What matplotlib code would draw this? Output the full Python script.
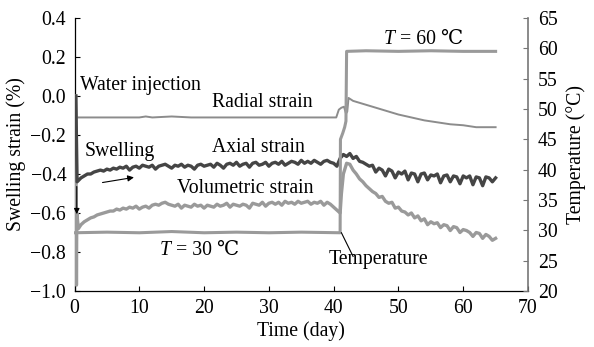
import matplotlib
matplotlib.use("Agg")
import matplotlib.pyplot as plt
import numpy as np

plt.rcParams['font.family'] = ['Liberation Serif', 'DejaVu Serif']

# ---------------- data ----------------
# Radial strain (%)
radial_t = [0.0, 0.2, 0.3, 5, 10, 11, 12, 15, 18, 20, 25, 30, 35, 40.4, 40.8, 41.2, 41.6, 41.9, 42.1,
            42.3, 43, 44, 45, 46, 47, 48, 49, 50, 52, 54, 56, 58, 60, 62, 64, 65]
radial_v = [0.0, 0.0, -0.11, -0.11, -0.11, -0.105, -0.11, -0.105, -0.11, -0.11, -0.11, -0.11, -0.11, -0.11,
            -0.07, -0.06, -0.055, -0.09, -0.08, -0.01, -0.025, -0.035, -0.045, -0.055, -0.065, -0.075,
            -0.085, -0.095, -0.11, -0.125, -0.135, -0.145, -0.15, -0.16, -0.16, -0.16]

# Axial strain (%)
axial_t = [0.2, 0.4, 0.7] + [1.0 + 0.5 * i for i in range(80)] + \
          [41.0, 41.5, 42.0, 42.5, 43.0, 43.5, 44.0, 44.5, 45.0, 45.5] + [46.0 + 0.5 * i for i in range(39)]
axial_v = [0.0, -0.44, -0.43,
           -0.42, -0.41, -0.40, -0.40, -0.39, -0.385, -0.38, -0.385, -0.375, -0.38,
           -0.37, -0.375, -0.365, -0.37, -0.36, -0.38, -0.365, -0.36, -0.37, -0.355,
           -0.36, -0.365, -0.355, -0.375, -0.36, -0.355, -0.35, -0.36, -0.37, -0.355,
           -0.36, -0.35, -0.365, -0.355, -0.36, -0.375, -0.355, -0.35, -0.36, -0.355,
           -0.35, -0.365, -0.345, -0.355, -0.37, -0.35, -0.345, -0.355, -0.34, -0.36,
           -0.35, -0.345, -0.365, -0.345, -0.34, -0.355, -0.35, -0.34, -0.36, -0.345,
           -0.34, -0.35, -0.335, -0.355, -0.345, -0.335, -0.34, -0.35, -0.33, -0.345,
           -0.335, -0.345, -0.33, -0.34, -0.35, -0.335, -0.33, -0.34, -0.345, -0.36,
           -0.32, -0.30, -0.31, -0.295, -0.32, -0.31, -0.335, -0.34, -0.35, -0.36,
           -0.355, -0.39, -0.37, -0.38, -0.41, -0.375, -0.385, -0.42, -0.39, -0.40,
           -0.385, -0.43, -0.395, -0.40, -0.44, -0.40, -0.395, -0.43, -0.405, -0.41,
           -0.40, -0.445, -0.41, -0.405, -0.44, -0.41, -0.415, -0.45, -0.41, -0.42,
           -0.41, -0.455, -0.415, -0.42, -0.46, -0.415, -0.42, -0.44, -0.42]

# Volumetric strain (%)
vol_t = [0.2, 0.3, 0.35, 0.6] + [1.0 + 0.5 * i for i in range(80)] + \
        [41.0, 41.2, 41.5, 42.0, 42.5, 43.0, 43.5, 44.0, 44.5, 45.0, 45.5] + [46.0 + 0.5 * i for i in range(39)]
vol_v = [0.0, -0.97, -0.60, -0.68,
         -0.66, -0.645, -0.635, -0.625, -0.62, -0.61, -0.605, -0.60, -0.595, -0.59,
         -0.59, -0.58, -0.585, -0.575, -0.58, -0.57, -0.575, -0.565, -0.58, -0.57,
         -0.565, -0.575, -0.56, -0.555, -0.56, -0.55, -0.545, -0.555, -0.56, -0.565,
         -0.555, -0.575, -0.56, -0.565, -0.57, -0.555, -0.565, -0.56, -0.575, -0.56,
         -0.565, -0.57, -0.555, -0.565, -0.56, -0.55, -0.57, -0.555, -0.56, -0.565,
         -0.555, -0.56, -0.575, -0.55, -0.555, -0.56, -0.545, -0.565, -0.55, -0.545,
         -0.555, -0.545, -0.56, -0.54, -0.55, -0.545, -0.555, -0.54, -0.55, -0.545,
         -0.54, -0.555, -0.545, -0.55, -0.54, -0.56, -0.545, -0.555, -0.57, -0.585,
         -0.60, -0.50, -0.40, -0.345, -0.35, -0.38, -0.40, -0.425, -0.44, -0.46, -0.475,
         -0.49, -0.50, -0.52, -0.515, -0.54, -0.55, -0.545, -0.575, -0.57, -0.59,
         -0.595, -0.61, -0.60, -0.625, -0.615, -0.64, -0.63, -0.66, -0.645, -0.655,
         -0.65, -0.675, -0.66, -0.665, -0.69, -0.67, -0.675, -0.70, -0.685, -0.69,
         -0.70, -0.72, -0.70, -0.705, -0.73, -0.71, -0.72, -0.74, -0.73]

# Temperature (deg C)
temp_t = [0.0, 5, 10, 15, 20, 25, 30, 35, 41.0, 41.05, 41.4, 41.7, 41.9, 42.0, 45, 50, 55, 60, 65]
temp_v = [29.6, 29.7, 29.6, 29.8, 29.6, 29.7, 29.6, 29.7, 29.6, 45.0, 46.0, 47.0, 48.0, 59.5,
          59.6, 59.5, 59.6, 59.5, 59.5]

xticks = [0, 10, 20, 30, 40, 50, 60, 70]
yticks_left = [0.4, 0.2, 0.0, -0.2, -0.4, -0.6, -0.8, -1.0]
yticks_left_labels = ['0.4', '0.2', '0.0', '\u22120.2', '\u22120.4', '\u22120.6', '\u22120.8', '\u22121.0']
yticks_right = [20, 25, 30, 35, 40, 45, 50, 55, 60, 65]

# ---------------- figure ----------------
fig = plt.figure(figsize=(5.94, 3.47), dpi=100)
ax = fig.add_axes([74.5 / 594, 1 - 291 / 347, (528 - 74.5) / 594, (291 - 18) / 347])
ax2 = ax.twinx()

ax.plot(radial_t, radial_v, color='#8c8c8c', lw=1.4, zorder=3)
ax.plot(vol_t, vol_v, color='#9a9a9a', lw=2.4, zorder=3)
ax.plot(axial_t, axial_v, color='#454545', lw=2.4, zorder=4)
ax2.plot(temp_t, temp_v, color='#9a9a9a', lw=2.2)

ax.set_xlim(0, 70)
ax.set_ylim(-1.0, 0.4)
ax2.set_ylim(20, 65)

fs = 14.2
ax.set_xticks(xticks)
ax.set_yticks(yticks_left)
ax.set_yticklabels(yticks_left_labels)
ax2.set_yticks(yticks_right)

ax.tick_params(axis='both', direction='in', length=3.5, width=0.8, labelsize=fs, colors='black', pad=6)
ax2.tick_params(axis='y', direction='in', length=3.5, width=0.8, labelsize=fs, color='#777777', pad=7)

for a in (ax, ax2):
    a.spines['top'].set_visible(False)
ax.spines['right'].set_visible(False)
ax2.spines['left'].set_visible(False)
ax2.spines['bottom'].set_visible(False)
ax2.spines['right'].set_color('#777777')
ax2.spines['right'].set_linewidth(1.2)
ax.spines['left'].set_linewidth(0.9)
ax.spines['bottom'].set_linewidth(0.9)

ax.set_xlabel('Time (day)', fontsize=fs, labelpad=2)
ax.set_ylabel('Swelling strain (%)', fontsize=fs, labelpad=3)
ax2.set_ylabel('Temperature (°C)', fontsize=fs, labelpad=6)

tf = 14.2
ax.text(0.9, 0.055, 'Water injection', fontsize=tf, va='center', ha='left')
ax.text(21.2, -0.035, 'Radial strain', fontsize=tf, va='center', ha='left')
ax.text(1.6, -0.285, 'Swelling', fontsize=tf, va='center', ha='left')
ax.text(21.2, -0.265, 'Axial strain', fontsize=tf, va='center', ha='left')
ax.text(15.8, -0.475, 'Volumetric strain', fontsize=tf, va='center', ha='left')
ax.text(39.2, -0.84, 'Temperature', fontsize=tf, va='center', ha='left')

t30 = ax.text(13.2, -0.79, 'T', fontsize=tf, va='center', ha='left', fontstyle='italic')
ax.annotate(' = 30 \u2103', xy=(1, 0.5), xycoords=t30, va='center', ha='left', fontsize=tf,
            family=['Liberation Serif', 'DejaVu Serif'])
t60 = ax2.text(47.8, 61.5, 'T', fontsize=tf, va='center', ha='left', fontstyle='italic')
ax2.annotate(' = 60 \u2103', xy=(1, 0.5), xycoords=t60, va='center', ha='left', fontsize=tf,
             family=['Liberation Serif', 'DejaVu Serif'])

# Arrows / leader lines
ax.annotate('', xy=(9.6, -0.415), xytext=(3.9, -0.446),
            arrowprops=dict(arrowstyle='-|>', color='black', lw=0.8, mutation_scale=9))
ax.annotate('', xy=(0.35, -0.62), xytext=(0.35, -0.45),
            arrowprops=dict(arrowstyle='-|>', color='black', lw=0.8, mutation_scale=8))
ax2.plot([41.2, 43.0], [29.6, 25.7], color='black', lw=0.8)

fig.savefig('out.png', dpi=100)
